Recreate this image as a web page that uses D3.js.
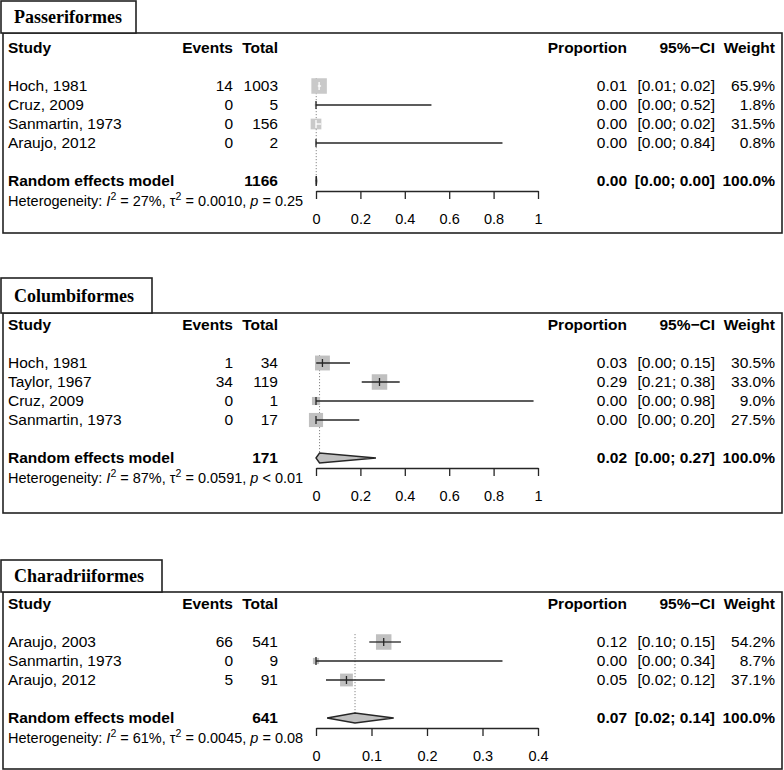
<!DOCTYPE html>
<html><head><meta charset="utf-8">
<script src="https://cdn.jsdelivr.net/npm/d3@7"></script>
<style>body{margin:0;background:#fff}svg{display:block}</style>
</head><body>
<script>
// ---------- DATA ----------
const panelTitles = ["Passeriformes", "Columbiformes", "Charadriiformes"];

const passStudies = ["Hoch, 1981", "Cruz, 2009", "Sanmartin, 1973", "Araujo, 2012"];
const passEvents  = [14, 0, 0, 0];
const passTotal   = [1003, 5, 156, 2];
const passProp    = [0.014, 0, 0, 0];
const passLower   = [0.008, 0, 0, 0];
const passUpper   = [0.023, 0.52, 0.023, 0.84];
const passWeight  = [65.9, 1.8, 31.5, 0.8];
const passPooled  = {total: 1166, est: 0.001, lo: 0.0, hi: 0.003, w: 100.0};
const passHet     = {i2: "27%", tau2: "0.0010", p: "= 0.25"};
const passTicks   = [0, 0.2, 0.4, 0.6, 0.8, 1];

const colStudies = ["Hoch, 1981", "Taylor, 1967", "Cruz, 2009", "Sanmartin, 1973"];
const colEvents  = [1, 34, 0, 0];
const colTotal   = [34, 119, 1, 17];
const colProp    = [0.029, 0.286, 0, 0];
const colLower   = [0.001, 0.206, 0, 0];
const colUpper   = [0.153, 0.377, 0.98, 0.195];
const colWeight  = [30.5, 33.0, 9.0, 27.5];
const colPooled  = {total: 171, est: 0.016, lo: 0.0, hi: 0.27, w: 100.0};
const colHet     = {i2: "87%", tau2: "0.0591", p: "< 0.01"};
const colTicks   = [0, 0.2, 0.4, 0.6, 0.8, 1];

const chaStudies = ["Araujo, 2003", "Sanmartin, 1973", "Araujo, 2012"];
const chaEvents  = [66, 0, 5];
const chaTotal   = [541, 9, 91];
const chaProp    = [0.122, 0, 0.0549];
const chaLower   = [0.096, 0, 0.018];
const chaUpper   = [0.153, 0.336, 0.124];
const chaWeight  = [54.2, 8.7, 37.1];
const chaPooled  = {total: 641, est: 0.0703, lo: 0.02, hi: 0.14, w: 100.0};
const chaHet     = {i2: "61%", tau2: "0.0045", p: "= 0.08"};
const chaTicks   = [0, 0.1, 0.2, 0.3, 0.4];

// ---------- BUILD ----------
const panels = [
  {title: panelTitles[0], studies: passStudies, events: passEvents, total: passTotal, prop: passProp, lo: passLower, hi: passUpper, w: passWeight, pooled: passPooled, het: passHet, ticks: passTicks,
   layout: {top: 33, titleY: 1, titleH: 32, titleW: 135, first: 86, bottom: 233, sq: "#c9c9c9"}},
  {title: panelTitles[1], studies: colStudies, events: colEvents, total: colTotal, prop: colProp, lo: colLower, hi: colUpper, w: colWeight, pooled: colPooled, het: colHet, ticks: colTicks,
   layout: {top: 313, titleY: 278, titleH: 35, titleW: 151, first: 363, bottom: 513, sq: "#c0c0c0"}},
  {title: panelTitles[2], studies: chaStudies, events: chaEvents, total: chaTotal, prop: chaProp, lo: chaLower, hi: chaUpper, w: chaWeight, pooled: chaPooled, het: chaHet, ticks: chaTicks,
   layout: {top: 592, titleY: 560, titleH: 32, titleW: 161, first: 642, bottom: 769, sq: "#c0c0c0"}}
];

const W = 784, H = 770;
const svg = d3.select("body").append("svg").attr("width", W).attr("height", H)
  .style("font-family", "'Liberation Sans', Arial, sans-serif");

const f2 = d3.format(".2f");
const f1 = d3.format(".1f");
const STEP = 19;
const FS = 15.5, FSH = 14.5;
const lineCol = "#262626";

const X0 = 316, X1 = 538;
const cStudy = 8, cEvents = 233, cTotal = 278, cProp = 627, cCI = 715, cW = 775;

panels.forEach(P => {
  const L = P.layout;
  const sqCol = L.sq;
  const g = svg.append("g");
  // main box
  g.append("rect").attr("x", 3).attr("y", L.top).attr("width", 779).attr("height", L.bottom - L.top)
    .attr("fill", "none").attr("stroke", "#222").attr("stroke-width", 1.6);
  // title box
  g.append("rect").attr("x", 1).attr("y", L.titleY).attr("width", L.titleW).attr("height", L.titleH)
    .attr("fill", "#fff").attr("stroke", "#222").attr("stroke-width", 1.6);
  g.append("text").attr("x", 14).attr("y", L.titleY + L.titleH / 2).attr("dy", "0.35em")
    .attr("font-family", "'Liberation Serif', 'Times New Roman', serif").attr("font-weight", "bold")
    .attr("font-size", 18).text(P.title);

  const headY = L.first - 38;
  const rowY = i => L.first + i * STEP;
  const n = P.studies.length;
  const reY = rowY(n + 1);
  const axisY = reY + 10;
  const hetY = reY + 20;

  const x = d3.scaleLinear().domain([0, P.ticks[P.ticks.length - 1]]).range([X0, X1]);
  const sz = d3.scaleSqrt().domain([0, d3.max(P.w)]).range([0, 15.5]);

  // header
  const hdr = [["Study", cStudy, "start"], ["Events", cEvents, "end"], ["Total", cTotal, "end"],
               ["Proportion", cProp, "end"], ["95%\u2212CI", cCI, "end"], ["Weight", cW, "end"]];
  hdr.forEach(h => g.append("text").attr("x", h[1]).attr("y", headY).attr("dy", "0.35em")
    .attr("text-anchor", h[2]).attr("font-weight", "bold").attr("font-size", FS).text(h[0]));

  // dotted reference line at pooled estimate
  g.append("line").attr("x1", x(P.pooled.est)).attr("x2", x(P.pooled.est))
    .attr("y1", L.first - 8).attr("y2", reY + 5)
    .attr("stroke", "#888").attr("stroke-width", 1).attr("stroke-dasharray", "1.2,1.8");

  // study rows
  P.studies.forEach((s, i) => {
    const y = rowY(i);
    const row = g.append("g");
    row.append("text").attr("x", cStudy).attr("y", y).attr("dy", "0.35em").attr("font-size", FS).text(s);
    row.append("text").attr("x", cEvents).attr("y", y).attr("dy", "0.35em").attr("text-anchor", "end").attr("font-size", FS).text(P.events[i]);
    row.append("text").attr("x", cTotal).attr("y", y).attr("dy", "0.35em").attr("text-anchor", "end").attr("font-size", FS).text(P.total[i]);
    row.append("text").attr("x", cProp).attr("y", y).attr("dy", "0.35em").attr("text-anchor", "end").attr("font-size", FS).text(f2(P.prop[i]));
    row.append("text").attr("x", cCI).attr("y", y).attr("dy", "0.35em").attr("text-anchor", "end").attr("font-size", FS)
      .text("[" + f2(P.lo[i]) + "; " + f2(P.hi[i]) + "]");
    row.append("text").attr("x", cW).attr("y", y).attr("dy", "0.35em").attr("text-anchor", "end").attr("font-size", FS).text(f1(P.w[i]) + "%");

    const cx = x(P.prop[i]);
    const s2 = sz(P.w[i]);
    row.append("rect").attr("x", cx - s2 / 2).attr("y", y - s2 / 2).attr("width", s2).attr("height", s2).attr("fill", sqCol);
    const inside = x(P.lo[i]) >= cx - s2 / 2 && x(P.hi[i]) <= cx + s2 / 2;
    const c = inside ? "#fff" : lineCol;
    row.append("line").attr("x1", x(P.lo[i])).attr("x2", x(P.hi[i])).attr("y1", y).attr("y2", y)
      .attr("stroke", c).attr("stroke-width", 1.3);
    row.append("line").attr("x1", cx).attr("x2", cx).attr("y1", y - 4).attr("y2", y + 4)
      .attr("stroke", c).attr("stroke-width", 1.3);
  });

  // pooled row
  g.append("text").attr("x", cStudy).attr("y", reY).attr("dy", "0.35em").attr("font-weight", "bold").attr("font-size", FS).text("Random effects model");
  g.append("text").attr("x", cTotal).attr("y", reY).attr("dy", "0.35em").attr("text-anchor", "end").attr("font-weight", "bold").attr("font-size", FS).text(P.pooled.total);
  g.append("text").attr("x", cProp).attr("y", reY).attr("dy", "0.35em").attr("text-anchor", "end").attr("font-weight", "bold").attr("font-size", FS).text(f2(P.pooled.est));
  g.append("text").attr("x", cCI).attr("y", reY).attr("dy", "0.35em").attr("text-anchor", "end").attr("font-weight", "bold").attr("font-size", FS)
    .text("[" + f2(P.pooled.lo) + "; " + f2(P.pooled.hi) + "]");
  g.append("text").attr("x", cW).attr("y", reY).attr("dy", "0.35em").attr("text-anchor", "end").attr("font-weight", "bold").attr("font-size", FS).text(f1(P.pooled.w) + "%");
  const dh = 5;
  const pts = [[x(P.pooled.lo), reY], [x(P.pooled.est), reY - dh], [x(P.pooled.hi), reY], [x(P.pooled.est), reY + dh]];
  g.append("polygon").attr("points", pts.map(p => p.join(",")).join(" "))
    .attr("fill", sqCol).attr("stroke", lineCol).attr("stroke-width", 1.4).attr("stroke-linejoin", "miter");

  // heterogeneity
  const ht = g.append("text").attr("x", cStudy).attr("y", hetY).attr("dy", "0.35em").attr("font-size", FSH);
  ht.append("tspan").text("Heterogeneity: ");
  ht.append("tspan").attr("font-style", "italic").text("I");
  ht.append("tspan").attr("dy", -6).attr("font-size", 10.5).text("2");
  ht.append("tspan").attr("dy", 6).text(" = " + P.het.i2 + ", \u03c4");
  ht.append("tspan").attr("dy", -6).attr("font-size", 10.5).text("2");
  ht.append("tspan").attr("dy", 6).text(" = " + P.het.tau2 + ", ");
  ht.append("tspan").attr("font-style", "italic").text("p");
  ht.append("tspan").text(" " + P.het.p);

  // axis
  const ax = g.append("g").attr("transform", `translate(0,${axisY})`)
    .call(d3.axisBottom(x).tickValues(P.ticks).tickFormat(d3.format("~g")).tickSize(8).tickPadding(15).tickSizeOuter(0));
  ax.select(".domain").attr("stroke", lineCol).attr("stroke-width", 1.3);
  ax.selectAll(".tick line").attr("stroke", lineCol).attr("stroke-width", 1.3);
  ax.selectAll(".tick text").attr("font-size", FSH).attr("font-family", "'Liberation Sans', Arial, sans-serif").attr("fill", "#000");
});
</script>
</body></html>
